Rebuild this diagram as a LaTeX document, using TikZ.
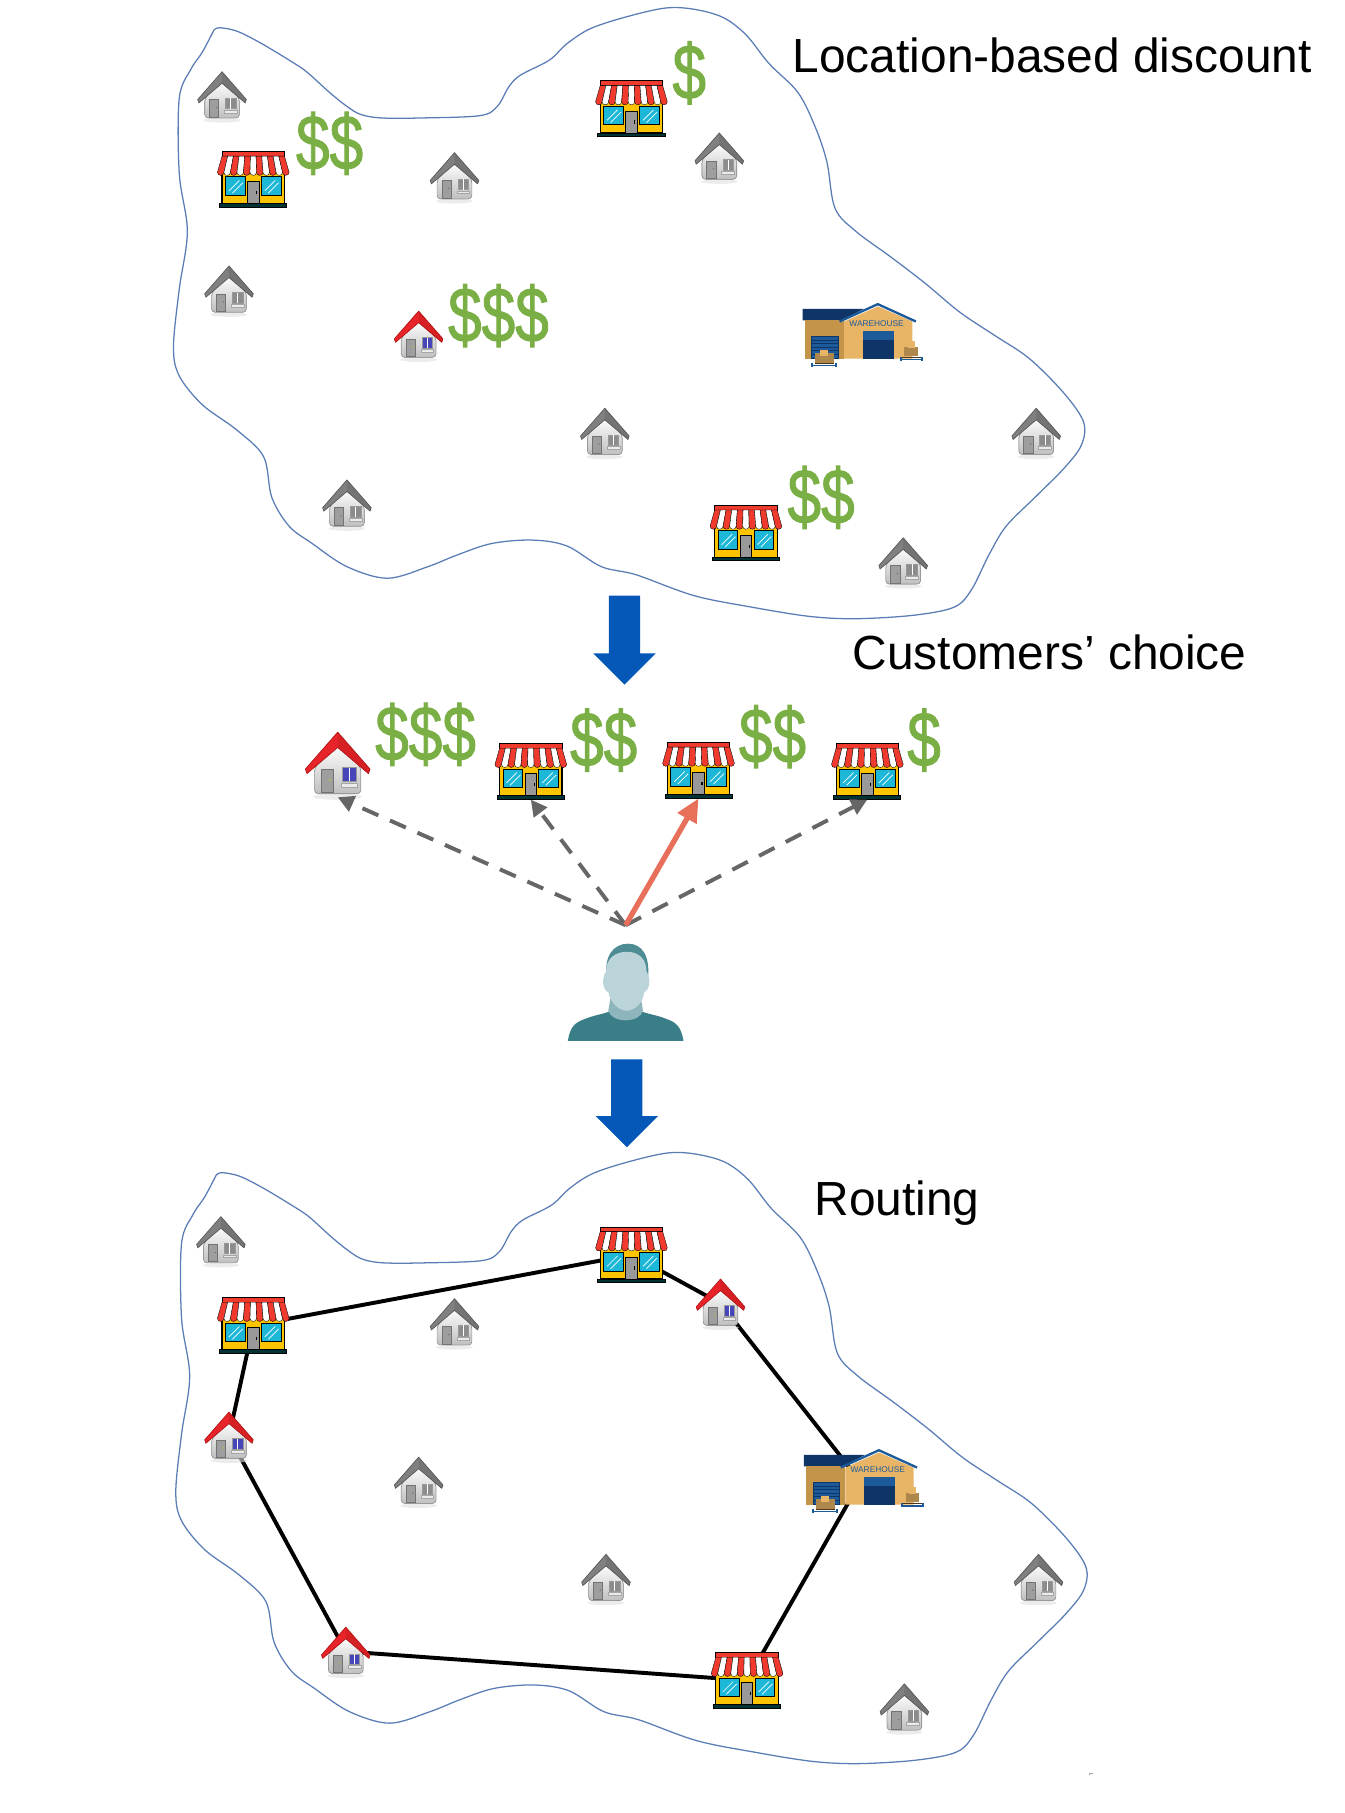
\documentclass[tikz,border=0pt]{standalone}
\usepackage{fontspec}
\usetikzlibrary{arrows.meta}
\setmainfont{Liberation Sans}
\newfontfamily\moneyfont[FakeBold=1.4]{Liberation Sans}
\definecolor{blobc}{HTML}{5B7DB5}
\definecolor{dollarc}{HTML}{7AAF45}
\definecolor{bluearrow}{HTML}{0558B8}
\definecolor{dashc}{HTML}{666666}
\definecolor{pickc}{HTML}{E8705A}
\definecolor{awnred}{HTML}{F03A2E}
\definecolor{shopyel}{HTML}{FFC400}
\definecolor{shopcy}{HTML}{1DB7D8}
\definecolor{whnavy}{HTML}{0F3466}
\definecolor{whblue}{HTML}{1C5A99}
\definecolor{whtan}{HTML}{E8B466}
\definecolor{whdark}{HTML}{C49449}
\definecolor{pshirt}{HTML}{3A7F88}
\definecolor{pneck}{HTML}{8FB5BC}
\definecolor{pface}{HTML}{BBD4DA}
\definecolor{roofred}{HTML}{E8242A}
\definecolor{roofreddk}{HTML}{B01818}
\newcommand{\housebody}[4]{%
  \fill[black!12,opacity=.6] (0,21) ellipse (16 and 2);
  \fill[rounded corners=1.5pt,top color=white,bottom color=black!25,draw=black!40,line width=.3pt]
    (0,-13) -- (15,2) -- (15,19) -- (-15,19) -- (-15,2) -- cycle;
  \fill[black!38,draw=black!55,line width=.2pt] (-11,3) rectangle (-3,18);
  \fill[#3,draw=black!40,line width=.2pt] (3,2) rectangle (12,11);
  \draw[white,line width=.3pt] (7.5,2) -- (7.5,11);
  \fill[#4] (-5,10) circle (.6);
  \fill[black!8,draw=black!35,line width=.2pt] (2,12) rectangle (13,14.5);
  \fill[#1,draw=#2,line width=.3pt,line join=round]
    (0,-21) -- (21,3) -- (20,6) -- (0,-11) -- (-20,6) -- (-21,3) -- cycle;
  \fill[#2,opacity=.3] (0,-21) -- (21,3) -- (20,6) -- (0,-11) -- cycle;
}
\tikzset{
  blobline/.style={blobc,line width=.55pt},
  housebox/.style={inner sep=0pt,minimum width=20pt,minimum height=20pt},
  bighousebox/.style={inner sep=0pt,minimum width=28pt,minimum height=28pt},
  shopbox/.style={inner sep=0pt,minimum width=29pt,minimum height=24pt},
  wharebox/.style={inner sep=0pt,minimum width=44pt,minimum height=24pt},
  routebox/.style={inner sep=0pt,minimum width=10pt,minimum height=10pt},
  money/.style={text=dollarc,font=\fontsize{30}{30}\moneyfont,inner sep=0pt,xscale=.87,yscale=1.12},
  title/.style={anchor=west,inner sep=0pt,font=\fontsize{20.7}{25}\selectfont},
  dashedarrow/.style={dashc,line width=1.7pt,dash pattern=on 7.5pt off 5.5pt,-{Stealth[length=7pt,width=7pt,inset=0pt]}},
  pickarrow/.style={pickc,line width=2.3pt,-{Stealth[length=10pt,width=9pt,inset=0pt]}},
  routeline/.style={black,line width=1.7pt},
  grayhouse/.pic={\housebody{black!50}{black!65}{black!45}{black!60}},
  redhouse/.pic={\housebody{roofred}{roofreddk}{blue!45!gray}{yellow!80!black}},
  shop/.pic={
    \fill[awnred,draw=black,line width=.4pt] (-27,-24) rectangle (27,-20);
    \fill[shopyel,draw=black,line width=.5pt] (-27,-6) rectangle (27,21);
    \foreach \i in {0,...,10}{
      \pgfmathsetmacro{\xa}{-27+\i*54/11}
      \pgfmathsetmacro{\xb}{-27+(\i+1)*54/11}
      \pgfmathsetmacro{\xc}{-31+\i*62/11}
      \pgfmathsetmacro{\xd}{-31+(\i+1)*62/11}
      \pgfmathtruncatemacro{\odd}{mod(\i,2)}
      \ifnum\odd=0 \def\stripe{awnred}\else\def\stripe{white}\fi
      \fill[\stripe,draw=black,line width=.15pt] (\xa,-20) -- (\xb,-20) -- (\xd,-6)
        .. controls (\xd,-2.5) and (\xc,-2.5) .. (\xc,-6) -- cycle;
    }
    \foreach \wx in {-24,7}{
      \fill[shopcy,draw=black,line width=.4pt] (\wx,-2) rectangle ++(17,16);
      \draw[white,line width=.3pt] (\wx+3,10) -- ++(9,-9) (\wx+6,12) -- ++(9,-9);
    }
    \fill[black!40,draw=black,line width=.35pt] (-5,2) rectangle (5,21);
    \fill[black] (2.5,10) rectangle (3.5,13);
    \fill[black!60!teal,draw=black,line width=.35pt] (-29,21) rectangle (29,24);
  },
  warehouse/.pic={
    \fill[whnavy] (-49,-23) -- (4,-23) -- (-17,-12) -- (-49,-13) -- cycle;
    \fill[whdark] (-47,-13) -- (-13,-13) -- (-13,20) -- (-47,20) -- cycle;
    \fill[whtan] (-13,-12) -- (16,-25) -- (46,-12) -- (46,20) -- (-13,20) -- cycle;
    \draw[whblue,line width=1pt,line join=round] (-17,-12) -- (16,-27) -- (49,-12);
    \node[text=whblue,inner sep=0pt,font=\fontsize{3.6}{4}\selectfont] at (15,-10) {WAREHOUSE};
    \fill[whnavy] (3,4) rectangle (30,20);
    \fill[whblue] (3,-3.5) rectangle (30,4);
    \fill[whblue,draw=whnavy,line width=.4pt] (-41,1) rectangle (-18,20);
    \foreach \sy in {4,7,...,18}{\draw[whnavy,line width=.3pt] (-41,\sy) -- (-18,\sy);}
    \fill[whtan!75!black] (-38,15) rectangle (-22,24);
    \fill[whtan] (-34,13) rectangle (-27,18);
    \draw[whblue,line width=.7pt] (-41,26) -- (-20,26) (-41,24) -- (-41,27) (-20,24) -- (-20,27);
    \draw[black!60!brown,line width=.5pt] (-38,24) -- (-22,24);
    \fill[whtan!75!black] (39,10) rectangle (51,18);
    \fill[whtan] (42,5) rectangle (48,11);
    \draw[whblue,line width=.7pt] (36,21) -- (54,21) (36,19) -- (36,22) (54,19) -- (54,22);
    \draw[black!60!brown,line width=.5pt] (37,19) -- (53,19);
  },
  person/.pic={
    \fill[pshirt] (-50,46) .. controls (-48,34) and (-44,30) .. (-35,27)
      .. controls (-28,24) and (-20,23) .. (-15,21) -- (15,21)
      .. controls (20,23) and (28,24) .. (35,27)
      .. controls (44,30) and (48,34) .. (50,46) -- cycle;
    \fill[pneck] (-13,8) -- (-15,20) .. controls (-12,31) and (12,31) .. (15,20) -- (13,8) -- cycle;
    \fill[pshirt!90!white] (-16,-5) .. controls (-20,-28) and (-10,-38) .. (2,-38)
      .. controls (14,-38) and (22,-28) .. (19,-5) -- cycle;
    \fill[pface] (-17,-14) .. controls (-21,-8) and (-20,2) .. (-15,4)
      .. controls (-13,14) and (-5,20) .. (1,20)
      .. controls (7,20) and (15,14) .. (16,4)
      .. controls (21,2) and (22,-8) .. (18,-14)
      .. controls (18,-26) and (10,-31) .. (1,-31)
      .. controls (-8,-31) and (-17,-26) .. (-17,-14) -- cycle;
  },
}
\newcommand{\blobpath}{plot[smooth,tension=.55] coordinates {
 (185,26) (190,24) (205,27) (225,37) (250,52) (265,62) (285,80) (300,92) (312,99) (330,102)
 (365,102) (415,100) (430,92) (440,75) (450,65) (475,52) (490,38) (510,25) (540,15) (575,7)
 (600,8) (625,15) (645,30) (665,55) (690,80) (705,110) (715,140) (722,180) (740,200) (770,222)
 (800,245) (830,270) (860,290) (890,310) (920,340) (937,365) (935,385) (920,405) (895,430)
 (870,455) (855,480) (840,510) (825,525) (790,532) (740,535) (700,533) (650,525) (600,515)
 (550,497) (520,490) (490,472) (460,467) (425,470) (395,480) (370,490) (335,500) (300,490)
 (270,470) (250,455) (235,430) (228,395) (205,372) (175,350) (155,325) (150,300) (155,250)
 (162,200) (155,150) (155,85) (165,60) (175,45) (185,26)}}
\begin{document}
\begin{tikzpicture}[x=.5pt,y=-.5pt]
\useasboundingbox (0,0) rectangle (1163,1567.7);
% regions
\draw[blobline] \blobpath;
\begin{scope}[shift={(2,990)}]
\draw[blobline] \blobpath;
\end{scope}
% titles
\node[title] (t1) at (685,48) {Location-based discount};
\node[title] (t2) at (737,564) {Customers’ choice};
\node[title] (t3) at (704,1040) {Routing};
% top panel
\foreach \n/\x/\y in {a1/192/83,a2/393/153,a3/622/136,a4/198/251,a5/523/374,a6/896/374,a7/300/436,a8/781/486}{
  \node[housebox] (\n) at (\x,\y) {};
  \pic at (\x,\y) {grayhouse};
}
\node[housebox] (a9) at (362,290) {};
\pic at (362,290) {redhouse};
\foreach \n/\x/\y in {as1/219/155,as2/546/94,as3/645/461}{
  \node[shopbox] (\n) at (\x,\y) {};
  \pic at (\x,\y) {shop};
}
\node[wharebox] (aw) at (743,290) {};
\pic at (743,290) {warehouse};
\node[money] (d1) at (285,124) {\$\$};
\node[money] (d2) at (596,63) {\$};
\node[money] (d3) at (431,273) {\$\$\$};
\node[money] (d4) at (710,430) {\$\$};
% flow arrows
\fill[bluearrow] (526.5,515) -- (553.5,515) -- (553.5,565) -- (567,565) -- (540,592) -- (513,565) -- (526.5,565) -- cycle;
\fill[bluearrow] (528.5,916) -- (555.5,916) -- (555.5,965) -- (569,965) -- (542,992) -- (515,965) -- (528.5,965) -- cycle;
% choice panel
\node[bighousebox] (c1) at (292,661) {};
\pic[scale=1.33] at (292,661) {redhouse};
\foreach \n/\x/\y in {c2/459/667,c3/604/666,c4/750/667}{
  \node[shopbox] (\n) at (\x,\y) {};
  \pic at (\x,\y) {shop};
}
\node[money] (e1) at (368,635) {\$\$\$};
\node[money] (e2) at (522,640) {\$\$};
\node[money] (e3) at (668,637) {\$\$};
\node[money] (e4) at (799,640) {\$};
\coordinate (pickfrom) at (541,800);
\draw[dashedarrow] (pickfrom) -- (c1.south);
\draw[dashedarrow] (pickfrom) -- (c2.south);
\draw[dashedarrow] (pickfrom) -- (c4.south);
\draw[pickarrow] (pickfrom) -- (c3.south);
\node[inner sep=0pt,minimum width=50pt,minimum height=42pt] (cust) at (541,854) {};
\pic at (541,854) {person};
% routing panel
\node[routebox] (b1) at (623,1127) {};
\node[routebox] (b2) at (198,1242) {};
\node[routebox] (b3) at (299,1428) {};
\node[routebox] (bs1) at (219,1146) {};
\node[routebox] (bs2) at (546,1085) {};
\node[routebox] (bs3) at (646,1453) {};
\node[routebox] (bw) at (744,1281) {};
\draw[routeline] (bw) -- (b1) -- (bs2) -- (bs1) -- (b2) -- (b3) -- (bs3) -- (bw);
\foreach \n/\x/\y in {g1/191/1073,g2/393/1144,g3/362/1281,g4/524/1365,g5/898/1365,g6/782/1477}{
  \node[housebox] (\n) at (\x,\y) {};
  \pic at (\x,\y) {grayhouse};
}
\pic at (623,1127) {redhouse};
\pic at (198,1242) {redhouse};
\pic at (299,1428) {redhouse};
\pic at (219,1146) {shop};
\pic at (546,1085) {shop};
\pic at (646,1453) {shop};
\pic at (744,1281) {warehouse};
\draw[black!35,line width=.3pt] (942,1535) -- (942,1533) -- (945,1533);
\end{tikzpicture}
\end{document}
